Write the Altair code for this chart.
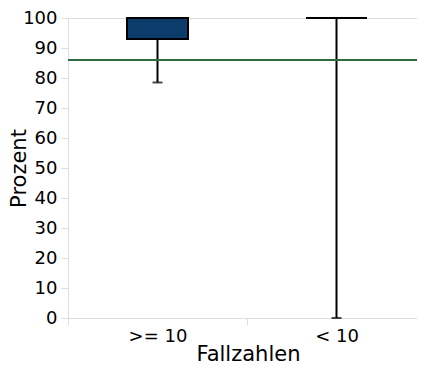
import altair as alt
import pandas as pd

categories = [">= 10", "< 10"]
lower = [78.5, 0.0]
q1 = [93.0, 100.0]
median = [100.0, 100.0]
q3 = [100.0, 100.0]
upper = [100.0, 100.0]
reference_value = [86.0]
y_ticks = [0, 10, 20, 30, 40, 50, 60, 70, 80, 90, 100]

df = pd.DataFrame({
    "Fallzahlen": categories,
    "lower": lower,
    "q1": q1,
    "median": median,
    "q3": q3,
    "upper": upper,
})
ref = pd.DataFrame({"ref": reference_value})

x = alt.X(
    "Fallzahlen:N",
    sort=categories,
    title="Fallzahlen",
    scale=alt.Scale(paddingInner=0, paddingOuter=0, range=[0, 358]),
    axis=alt.Axis(labelAngle=0, tickBand="extent", domain=True, domainColor="#dddddd",
                  grid=False, tickColor="#dddddd", tickSize=7, labelPadding=2,
                  titleX=180, titleY=42, titleBaseline="alphabetic", titleAlign="center"),
)
yscale = alt.Scale(domain=[0, 100])
yaxis = alt.Axis(
    values=y_ticks, labelOverlap=False, tickCount=11,
    domain=True, domainColor="#dddddd",
    grid=True, gridColor="#dddddd",
    gridOpacity={"condition": {"test": "datum.value == 100", "value": 1}, "value": 0},
    tickColor="#dddddd", tickSize=7,
    titleX=-43, titleY=150, titleBaseline="alphabetic", titleAlign="center",
)


def yenc(field):
    return alt.Y(field, type="quantitative", scale=yscale, axis=yaxis, title="Prozent")


base = alt.Chart(df).encode(x=x)

whisker_low = base.mark_rule(color="black", strokeWidth=2).encode(
    y=yenc("lower"), y2="q1:Q")
whisker_high = base.mark_rule(color="black", strokeWidth=2).encode(
    y=yenc("q3"), y2="upper:Q")
cap_low = base.mark_tick(color="black", thickness=2, size=10, orient="horizontal").encode(
    y=yenc("lower"))
cap_high = base.mark_tick(color="black", thickness=2, size=10, orient="horizontal").encode(
    y=yenc("upper"))
box = base.mark_bar(color="#0b3c6b", stroke="black", strokeWidth=2, size=61).encode(
    y=yenc("q1"), y2="q3:Q")
med = base.mark_tick(color="black", thickness=2, size=61, orient="horizontal").encode(
    y=yenc("median"))

rule = alt.Chart(ref).mark_rule(color="#2e6b40", strokeWidth=2).encode(
    y=yenc("ref"), x=alt.value(0), x2=alt.value(358))

chart = alt.layer(whisker_low, whisker_high, cap_low, cap_high, box, med, rule).properties(
    width=349,
    height=300,
    autosize=alt.AutoSizeParams(type="none"),
    padding={"left": 60, "top": 10, "right": 0, "bottom": 45},
).configure_axis(
    labelFont="DejaVu Sans",
    titleFont="DejaVu Sans",
    labelFontSize=18,
    titleFontSize=21,
    labelColor="black",
    titleColor="black",
    titleFontWeight="normal",
    labelPadding=4,
).configure_view(stroke=None)

chart.save("out.html", embed_options={"renderer": "svg", "actions": False})
